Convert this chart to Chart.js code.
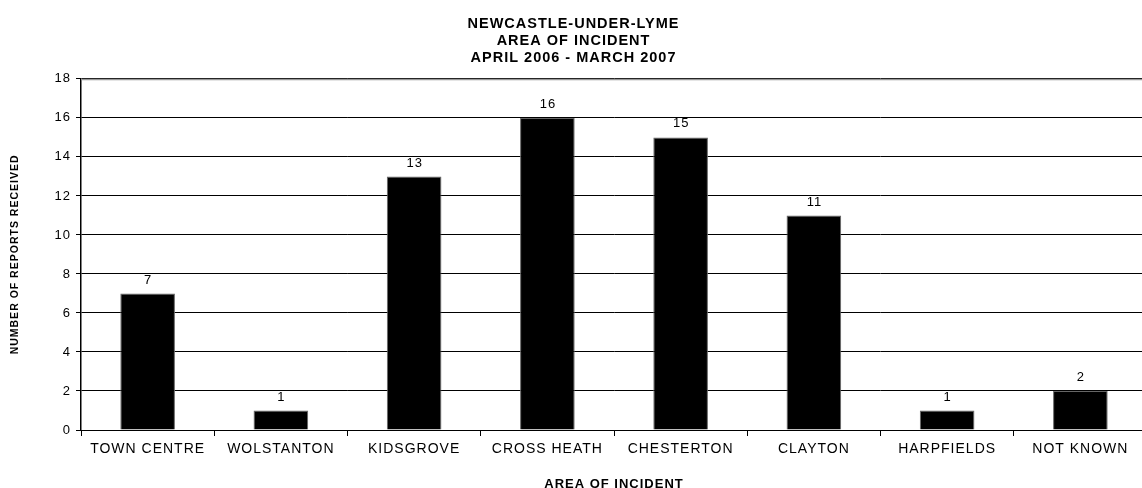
<!DOCTYPE html>
<html>
<head>
<meta charset="utf-8">
<script src="https://cdn.jsdelivr.net/npm/chart.js@4/dist/chart.umd.min.js"></script>
<style>
  html, body { margin: 0; padding: 0; background: #fff; overflow: hidden; }
  #wrap { width: 1162px; height: 492px; }
</style>
</head>
<body>
<div id="wrap"><canvas id="c" width="1162" height="492"></canvas></div>
<script>
const areas = ['TOWN CENTRE', 'WOLSTANTON', 'KIDSGROVE', 'CROSS HEATH', 'CHESTERTON', 'CLAYTON', 'HARPFIELDS', 'NOT KNOWN'];
const reports = [7, 1, 13, 16, 15, 11, 1, 2];
const titleLines = ['NEWCASTLE-UNDER-LYME', 'AREA OF INCIDENT', 'APRIL 2006 - MARCH 2007'];
const yTicks = [0, 2, 4, 6, 8, 10, 12, 14, 16, 18];

const FONT = "'Liberation Sans', Arial, sans-serif";

// slightly wider text spacing for all labels
const spacing = {
  id: 'spacing',
  beforeLayout(chart) { chart.ctx.letterSpacing = '1px'; },
  beforeDraw(chart) { chart.ctx.letterSpacing = '1px'; }
};

// value labels above each bar
const valueLabels = {
  id: 'valueLabels',
  afterDatasetsDraw(chart) {
    const ctx = chart.ctx;
    const meta = chart.getDatasetMeta(0);
    ctx.save();
    ctx.font = '13px ' + FONT;
    ctx.fillStyle = '#000';
    ctx.textAlign = 'center';
    ctx.textBaseline = 'bottom';
    meta.data.forEach((bar, i) => {
      ctx.fillText(String(reports[i]), bar.x + 0.5, bar.y - 7);
    });
    ctx.restore();
  }
};

// grey top border of the plot area
const topBorder = {
  id: 'topBorder',
  afterDraw(chart) {
    const { ctx, chartArea } = chart;
    ctx.save();
    ctx.strokeStyle = '#999';
    ctx.lineWidth = 1.5;
    ctx.beginPath();
    ctx.moveTo(chartArea.left, chartArea.top + 0.5);
    ctx.lineTo(chartArea.right, chartArea.top + 0.5);
    ctx.stroke();
    ctx.restore();
  }
};

new Chart(document.getElementById('c'), {
  type: 'bar',
  data: {
    labels: areas,
    datasets: [{
      data: reports,
      backgroundColor: '#000',
      borderColor: '#666',
      borderWidth: 1,
      barPercentage: 0.41,
      categoryPercentage: 1.0
    }]
  },
  options: {
    responsive: false,
    animation: false,
    devicePixelRatio: 1,
    layout: { padding: { top: 0, right: 15, bottom: 0, left: 0 } },
    plugins: {
      legend: { display: false },
      tooltip: { enabled: false },
      title: {
        display: true,
        text: titleLines,
        color: '#000',
        font: { family: FONT, size: 14.5, weight: 'bold', lineHeight: 1.17 },
        padding: { top: 16, bottom: 12 }
      }
    },
    scales: {
      x: {
        grid: {
          display: true,
          drawOnChartArea: false,
          drawTicks: true,
          tickLength: 6,
          color: '#000',
          offset: true
        },
        border: { display: true, color: '#000', width: 1 },
        ticks: {
          color: '#000',
          font: { family: FONT, size: 14 },
          padding: 5,
          maxRotation: 0,
          autoSkip: false
        },
        title: {
          display: true,
          text: 'AREA OF INCIDENT',
          color: '#000',
          font: { family: FONT, size: 13, weight: 'bold' },
          padding: { top: 10, bottom: 0 }
        },
        afterFit(s) { s.height = 62; }
      },
      y: {
        min: 0,
        max: 18,
        afterBuildTicks(s) { s.ticks = yTicks.map(v => ({ value: v })); },
        grid: {
          color: '#000',
          lineWidth: 1,
          tickLength: 5,
          drawTicks: true
        },
        border: { display: true, color: '#000', width: 1.5 },
        ticks: {
          color: '#000',
          font: { family: FONT, size: 13 },
          padding: 5
        },
        title: {
          display: true,
          text: 'NUMBER OF REPORTS RECEIVED',
          color: '#000',
          font: { family: FONT, size: 10.5, weight: 'bold' },
          padding: { top: 9, bottom: 0 }
        },
        afterFit(s) { s.width = 81; }
      }
    }
  },
  plugins: [spacing, valueLabels, topBorder]
});
</script>
</body>
</html>
